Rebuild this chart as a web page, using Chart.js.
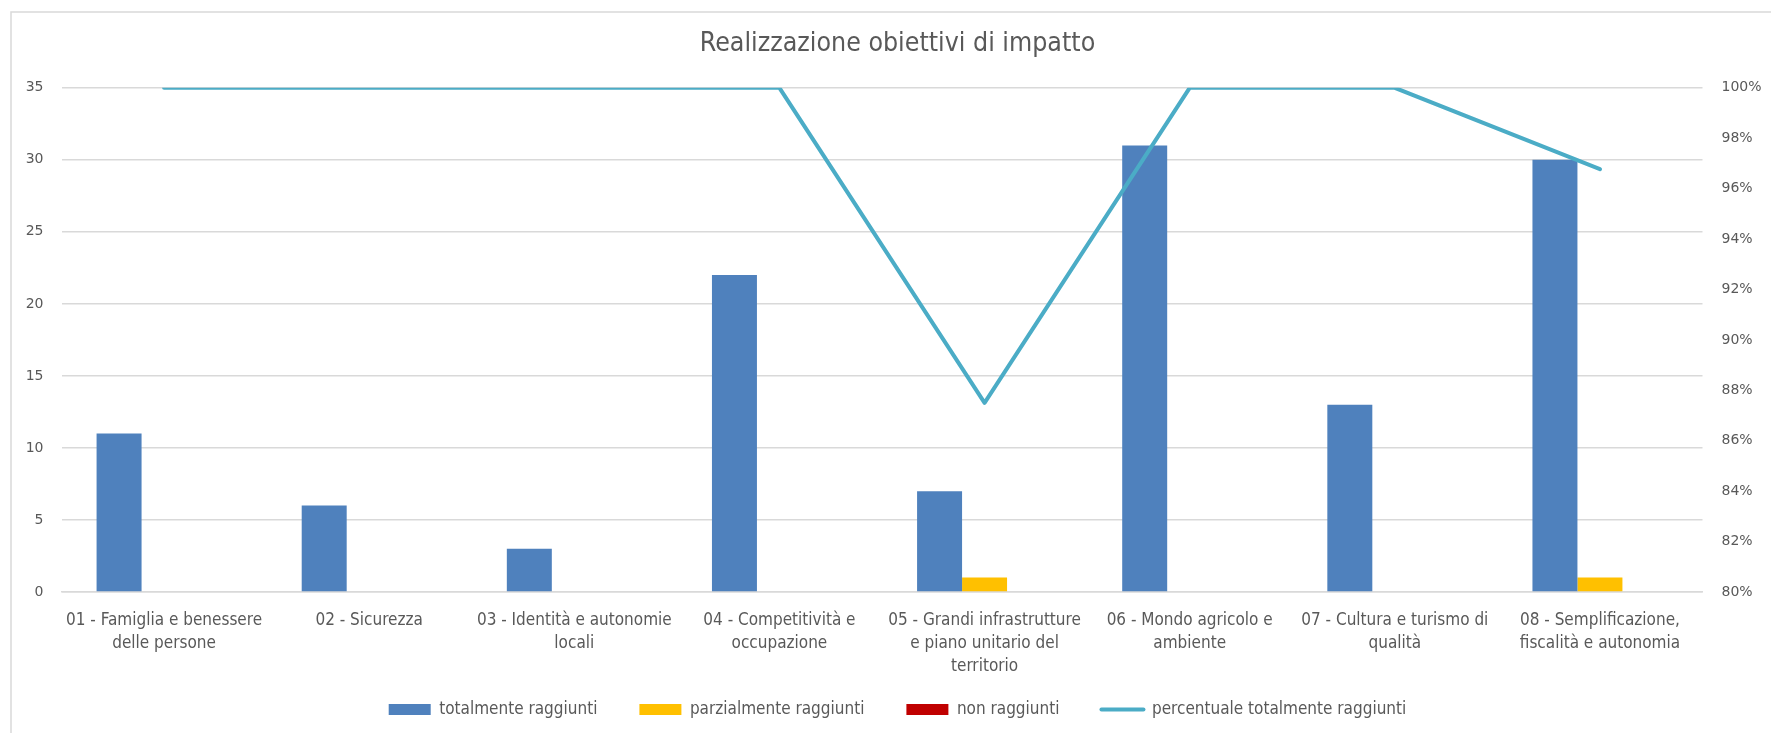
<!DOCTYPE html>
<html lang="it">
<head>
<meta charset="utf-8">
<title>Realizzazione obiettivi di impatto</title>
<script src="https://cdn.jsdelivr.net/npm/chart.js@4.4.1/dist/chart.umd.min.js"></script>
<style>
  html, body { margin: 0; padding: 0; background: #ffffff; }
  #wrap { position: relative; width: 1771px; height: 733px; }
</style>
</head>
<body>
<div id="wrap"><canvas id="impactChart"></canvas></div>
<script>
(function () {
    'use strict';

    // categorie (etichette su più righe come nell'originale)
    var categories = [
        ['01 - Famiglia e benessere', 'delle persone'],
        ['02 - Sicurezza'],
        ['03 - Identità e autonomie', 'locali'],
        ['04 - Competitività e', 'occupazione'],
        ['05 - Grandi infrastrutture', 'e piano unitario del', 'territorio'],
        ['06 - Mondo agricolo e', 'ambiente'],
        ['07 - Cultura e turismo di', 'qualità'],
        ['08 - Semplificazione,', 'fiscalità e autonomia']
    ];

    var totalmente = [11, 6, 3, 22, 7, 31, 13, 30];
    var parzialmente = [0, 0, 0, 0, 1, 0, 0, 1];
    var nonRaggiunti = [0, 0, 0, 0, 0, 0, 0, 0];
    var percentuale = [100, 100, 100, 100, 87.5, 100, 100, 96.77];

    var countAxis = { min: 0, max: 35, step: 5 };
    var pctAxis = { min: 80, max: 100, step: 2 };

    var FONT = "'Liberation Sans Narrow', 'DejaVu Sans Condensed', 'Roboto', sans-serif";
    var TICK_FONT = "'DejaVu Sans', 'Noto Sans', sans-serif";
    var TEXT = '#595959';
    var GRID = '#d9d9d9';

    Chart.defaults.font.family = FONT;
    Chart.defaults.color = TEXT;

    // cornice del grafico (solo lati sinistro e superiore visibili)
    // e niente ritaglio delle etichette dell'asse x (la terza riga sborda)
    var frame = {
        id: 'frame',
        afterLayout: function (chart) {
            chart.scales.x._computeLabelArea = function () { return undefined; };
        },
        beforeDraw: function (chart) {
            var ctx = chart.ctx;
            ctx.save();
            ctx.strokeStyle = GRID;
            ctx.lineWidth = 1.5;
            ctx.beginPath();
            ctx.moveTo(11, chart.height);
            ctx.lineTo(11, 12);
            ctx.lineTo(chart.width, 12);
            ctx.stroke();
            ctx.restore();
        }
    };

    var canvas = document.getElementById('impactChart');

    new Chart(canvas, {
        type: 'bar',
        data: {
            labels: categories,
            datasets: [{
                label: 'totalmente raggiunti',
                data: totalmente,
                backgroundColor: '#4f81bd',
                borderWidth: 0,
                yAxisID: 'y',
                order: 1
            }, {
                label: 'parzialmente raggiunti',
                data: parzialmente,
                backgroundColor: '#ffc000',
                borderWidth: 0,
                yAxisID: 'y',
                order: 1
            }, {
                label: 'non raggiunti',
                data: nonRaggiunti,
                backgroundColor: '#c00000',
                borderWidth: 0,
                yAxisID: 'y',
                order: 1
            }, {
                type: 'line',
                label: 'percentuale totalmente raggiunti',
                data: percentuale,
                borderColor: '#4bacc6',
                backgroundColor: '#4bacc6',
                borderWidth: 4,
                borderCapStyle: 'round',
                borderJoinStyle: 'round',
                pointRadius: 0,
                tension: 0,
                fill: false,
                yAxisID: 'y1',
                order: 0
            }]
        },
        options: {
            responsive: true,
            maintainAspectRatio: false,
            animation: false,
            datasets: {
                bar: { categoryPercentage: 0.658, barPercentage: 1.0 }
            },
            layout: { padding: { top: 0, left: 24, right: 0, bottom: 5 } },
            scales: {
                x: {
                    grid: { display: false, drawTicks: false },
                    border: { display: true, color: GRID, width: 1.5 },
                    ticks: {
                        padding: 17,
                        maxRotation: 0,
                        autoSkip: false,
                        font: { size: 17, lineHeight: 1.35 },
                        color: TEXT
                    },
                    afterFit: function (scale) { scale.height = 67; }
                },
                y: {
                    position: 'left',
                    min: countAxis.min,
                    max: countAxis.max,
                    grid: { color: GRID, lineWidth: 1.5, drawTicks: false },
                    border: { display: false },
                    ticks: {
                        stepSize: countAxis.step,
                        padding: 18,
                        font: { family: TICK_FONT, size: 14 },
                        color: TEXT
                    },
                    afterFit: function (scale) { scale.width = 37.5; }
                },
                y1: {
                    position: 'right',
                    min: pctAxis.min,
                    max: pctAxis.max,
                    grid: { display: false, drawTicks: false },
                    border: { display: false },
                    ticks: {
                        stepSize: pctAxis.step,
                        padding: 19,
                        font: { family: TICK_FONT, size: 14 },
                        color: TEXT,
                        callback: function (value) { return value + '%'; }
                    },
                    afterFit: function (scale) { scale.width = 68.5; }
                }
            },
            plugins: {
                title: {
                    display: true,
                    text: 'Realizzazione obiettivi di impatto',
                    color: TEXT,
                    font: { size: 26.5, weight: 'normal', lineHeight: 1.2 },
                    padding: { top: 28, bottom: 28 }
                },
                legend: {
                    position: 'bottom',
                    labels: {
                        usePointStyle: true,
                        pointStyleWidth: 42,
                        boxHeight: 11,
                        padding: 42,
                        font: { size: 17 },
                        color: TEXT,
                        generateLabels: function (chart) {
                            return chart.data.datasets.map(function (ds, i) {
                                var isLine = ds.type === 'line';
                                return {
                                    text: ds.label,
                                    datasetIndex: i,
                                    fillStyle: isLine ? 'rgba(0,0,0,0)' : ds.backgroundColor,
                                    strokeStyle: isLine ? ds.borderColor : ds.backgroundColor,
                                    lineWidth: isLine ? 4 : 0,
                                    lineCap: 'round',
                                    pointStyle: isLine ? 'line' : 'rect',
                                    fontColor: TEXT,
                                    hidden: !chart.isDatasetVisible(i)
                                };
                            });
                        }
                    }
                },
                tooltip: { enabled: false }
            }
        },
        plugins: [frame]
    });
})();
</script>
</body>
</html>
